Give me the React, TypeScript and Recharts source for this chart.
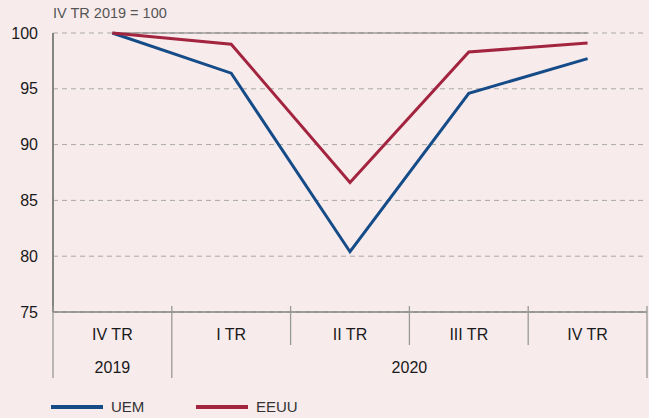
import { LineChart, Line, XAxis, YAxis, CartesianGrid } from 'recharts'

const quarters = ['IV TR', 'I TR', 'II TR', 'III TR', 'IV TR']
const periods = ['2019-4', '2020-1', '2020-2', '2020-3', '2020-4']
const uem = [100, 96.4, 80.4, 94.6, 97.7]
const eeuu = [100, 99.0, 86.6, 98.3, 99.1]
const base = [100, 100, 100, 100, 100]
const yearLabels = [
  { label: '2019', at: 0, shift: 0 },
  { label: '2020', at: 2, shift: 1 },
]
const yTicks = [75, 80, 85, 90, 95, 100]

const data = periods.map((p, i) => ({
  period: p,
  uem: uem[i],
  eeuu: eeuu[i],
  base: base[i],
}))

const FONT = '"Liberation Sans", Arial, Helvetica, sans-serif'
const HALF_BAND = 59.4
const BLUE = '#154c88'
const RED = '#a3243f'
const GRAY = '#858585'

function QuarterTick(props: any) {
  const { x, y, payload } = props
  const i = payload.index
  const year = yearLabels.find((yl) => yl.at === i)
  const left = x - HALF_BAND
  // year boundaries get a longer separator
  const leftTall = i === 0 || i === 1
  return (
    <g>
      <line x1={left} x2={left} y1={y - 6} y2={leftTall ? y + 66 : y + 33} stroke="#999" strokeWidth={1.3} />
      {i === quarters.length - 1 && (
        <line x1={x + HALF_BAND} x2={x + HALF_BAND} y1={y - 6} y2={y + 66} stroke="#999" strokeWidth={1.3} />
      )}
      <text x={x} y={y + 28} textAnchor="middle" fontSize={16} fill="#1a1a1a" fontFamily={FONT}>
        {quarters[i]}
      </text>
      {year && (
        <text
          x={x + year.shift * HALF_BAND}
          y={y + 61}
          textAnchor="middle"
          fontSize={16}
          fill="#1a1a1a"
          fontFamily={FONT}
        >
          {year.label}
        </text>
      )}
    </g>
  )
}

export default function App() {
  return (
    <div style={{ position: 'relative', width: 649, height: 418, background: '#f8ebec', fontFamily: FONT }}>
      <style>{`body{margin:0}`}</style>
      <div style={{ position: 'absolute', left: 53, top: 5, fontSize: 14.5, color: '#555' }}>IV TR 2019 = 100</div>
      <LineChart width={649} height={418} data={data} margin={{ top: 33, right: 2, left: 0, bottom: 36 }}>
        <CartesianGrid vertical={false} stroke="#a8a8a8" strokeDasharray="5 4" />
        <XAxis
          dataKey="period"
          padding={{ left: HALF_BAND, right: HALF_BAND }}
          tickLine={false}
          tickSize={0}
          tickMargin={0}
          height={70}
          interval={0}
          stroke={GRAY}
          strokeWidth={1.5}
          tick={<QuarterTick />}
        />
        <YAxis
          domain={[75, 100]}
          ticks={yTicks}
          width={53}
          tickLine={false}
          tickSize={0}
          tickMargin={15}
          stroke={GRAY}
          strokeWidth={2}
          tick={{ fontSize: 16, fill: '#1a1a1a', fontFamily: FONT }}
        />
        <Line dataKey="base" stroke="#777" strokeWidth={1.2} dot={false} isAnimationActive={false} legendType="none" />
        <Line dataKey="uem" stroke={BLUE} strokeWidth={3} dot={false} isAnimationActive={false} />
        <Line dataKey="eeuu" stroke={RED} strokeWidth={3} dot={false} isAnimationActive={false} />
      </LineChart>
      <div style={{ position: 'absolute', left: 51, top: 398, display: 'flex', alignItems: 'center', fontSize: 15, color: '#333' }}>
        <span style={{ display: 'inline-block', width: 52, height: 4, background: BLUE }} />
        <span style={{ marginLeft: 8, width: 85, fontFamily: '"Liberation Sans Narrow", ' + FONT }}>UEM</span>
        <span style={{ display: 'inline-block', width: 52, height: 4, background: RED }} />
        <span style={{ marginLeft: 8, fontFamily: '"Liberation Sans Narrow", ' + FONT }}>EEUU</span>
      </div>
    </div>
  )
}
